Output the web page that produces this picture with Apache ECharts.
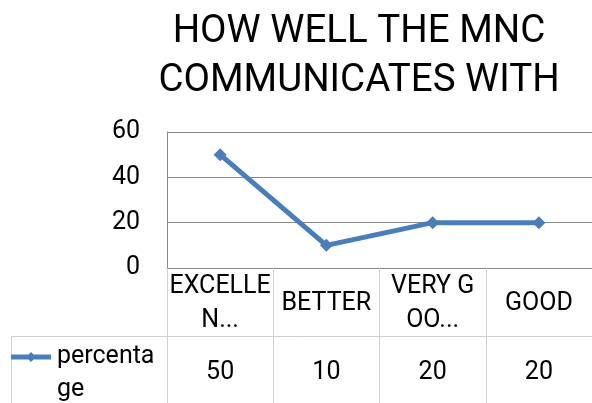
<!DOCTYPE html>
<html>
<head>
<meta charset="utf-8">
<script src="https://cdn.jsdelivr.net/npm/echarts@6/dist/echarts.min.js"></script>
<style>
  html, body { margin: 0; padding: 0; background: #fff; }
  #chart { width: 592px; height: 403px; }
</style>
</head>
<body>
<div id="chart"></div>
<script>
var titleText = 'HOW WELL THE MNC\nCOMMUNICATES WITH'
var categories = ['EXCELLENT', 'BETTER', 'VERY GOOD', 'GOOD']
// how the table header shows them (cut off like in the original)
var headerLabels = ['EXCELLE\nN...', 'BETTER', 'VERY G\nOO...', 'GOOD']
var seriesName = 'percentage'
var percentage = [50, 10, 20, 20]
var yTicks = { min: 0, max: 60, interval: 20 }

var font = 'Roboto'
var lineColor = '#4a7ebb'
var tableColor = '#cfcfcf'

var chart = echarts.init(document.getElementById('chart'))

chart.setOption({
  backgroundColor: '#fff',
  textStyle: { fontFamily: font },
  title: {
    text: titleText,
    left: 359,
    top: 8,
    textAlign: 'center',
    padding: 0,
    textStyle: {
      fontFamily: font,
      fontSize: 38.5,
      fontWeight: 'normal',
      color: '#000',
      lineHeight: 49
    }
  },
  legend: {
    left: 11,
    // an empty first line keeps the icon level with "percenta"
    top: 307.5,
    padding: 0,
    itemWidth: 42,
    itemHeight: 10,
    icon: 'path://M0,2.5H40V7.5H0Z M20,0L25,5L20,10L15,5Z',
    formatter: function (name) {
      return '\n' + name.slice(0, 8) + '\n' + name.slice(8)
    },
    textStyle: {
      fontFamily: font,
      fontSize: 25,
      color: '#000',
      lineHeight: 33
    },
    data: [seriesName]
  },
  grid: {
    left: 167,
    top: 132,
    width: 426,
    height: 136,
    containLabel: false
  },
  xAxis: [
    {
      type: 'category',
      data: categories,
      boundaryGap: true,
      axisLine: { lineStyle: { color: '#888', width: 1 } },
      axisTick: { show: true, length: 135, lineStyle: { color: tableColor } },
      axisLabel: {
        interval: 0,
        margin: 36,
        verticalAlign: 'middle',
        fontFamily: font,
        fontSize: 25,
        color: '#000',
        lineHeight: 34,
        formatter: function (value, idx) {
          return headerLabels[idx]
        }
      },
      splitLine: { show: false }
    },
    {
      type: 'category',
      position: 'bottom',
      data: percentage.map(String),
      boundaryGap: true,
      axisLine: { show: false },
      axisTick: { show: false },
      axisLabel: {
        interval: 0,
        margin: 105,
        verticalAlign: 'middle',
        fontFamily: font,
        fontSize: 25,
        color: '#000'
      },
      splitLine: { show: false }
    }
  ],
  yAxis: {
    type: 'value',
    min: yTicks.min,
    max: yTicks.max,
    interval: yTicks.interval,
    axisLine: { show: true, lineStyle: { color: '#888' } },
    axisTick: { show: false },
    axisLabel: {
      margin: 27,
      fontFamily: font,
      fontSize: 25,
      color: '#000'
    },
    splitLine: { lineStyle: { color: '#8a8a8a', width: 1 } }
  },
  graphic: [
    {
      type: 'line',
      shape: { x1: 11, y1: 336.5, x2: 592, y2: 336.5 },
      style: { stroke: tableColor, lineWidth: 1 }
    },
    {
      type: 'line',
      shape: { x1: 11.5, y1: 336, x2: 11.5, y2: 403 },
      style: { stroke: tableColor, lineWidth: 1 }
    }
  ],
  series: [
    {
      name: seriesName,
      type: 'line',
      xAxisIndex: 0,
      data: percentage,
      symbol: 'diamond',
      symbolSize: 13,
      showSymbol: true,
      lineStyle: { color: lineColor, width: 5 },
      itemStyle: { color: lineColor },
      emphasis: { disabled: true },
      animation: false
    }
  ],
  animation: false
})
</script>
</body>
</html>
